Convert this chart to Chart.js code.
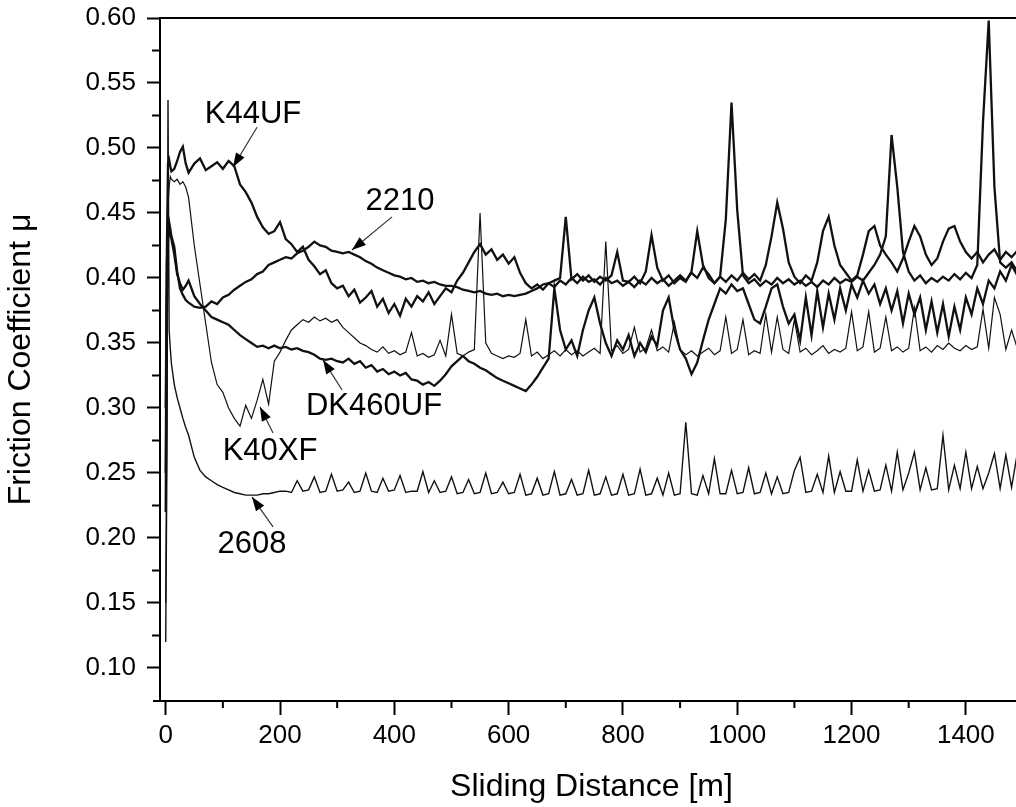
<!DOCTYPE html>
<html>
<head>
<meta charset="utf-8">
<script src="https://cdn.jsdelivr.net/npm/chart.js@4.4.0/dist/chart.umd.min.js"></script>
<style>
  html, body { margin: 0; padding: 0; background: #fff; overflow: hidden; }
  #wrap { width: 1016px; height: 807px; overflow: hidden; }
</style>
</head>
<body>
<div id="wrap"><canvas id="chart" width="1040" height="807"></canvas></div>
<script>
// sliding distance [m], shared by every curve
const distance = [
  0, 2, 4, 6, 8, 10, 15, 20, 25, 30, 35, 40,
  50, 60, 70, 80, 90, 100, 110, 120, 130, 140, 150, 160, 170, 180, 190, 200,
  210, 220, 230, 240, 250, 260, 270, 280, 290, 300,
  310, 320, 330, 340, 350, 360, 370, 380, 390, 400,
  410, 420, 430, 440, 450, 460, 470, 480, 490, 500,
  510, 520, 530, 540, 550, 560, 570, 580, 590, 600,
  610, 620, 630, 640, 650, 660, 670, 680, 690, 700,
  710, 720, 730, 740, 750, 760, 770, 780, 790, 800,
  810, 820, 830, 840, 850, 860, 870, 880, 890, 900,
  910, 920, 930, 940, 950, 960, 970, 980, 990, 1000,
  1010, 1020, 1030, 1040, 1050, 1060, 1070, 1080, 1090, 1100,
  1110, 1120, 1130, 1140, 1150, 1160, 1170, 1180, 1190, 1200,
  1210, 1220, 1230, 1240, 1250, 1260, 1270, 1280, 1290, 1300,
  1310, 1320, 1330, 1340, 1350, 1360, 1370, 1380, 1390, 1400,
  1410, 1420, 1430, 1440, 1450, 1460, 1470, 1480, 1490, 1500
];

// friction coefficient, one array per material
const k44uf = [
  0.250, 0.420, 0.488, 0.491, 0.486, 0.482, 0.484, 0.490, 0.497, 0.501, 0.488, 0.481,
  0.488, 0.492, 0.483, 0.486, 0.489, 0.484, 0.490, 0.486, 0.472, 0.466, 0.458, 0.447, 0.439, 0.434, 0.436, 0.443,
  0.430, 0.426, 0.420, 0.424, 0.414, 0.409, 0.403, 0.406, 0.396, 0.392,
  0.394, 0.386, 0.391, 0.381, 0.385, 0.390, 0.378, 0.384, 0.373, 0.380,
  0.371, 0.384, 0.378, 0.386, 0.382, 0.389, 0.380, 0.386, 0.392, 0.389,
  0.398, 0.404, 0.412, 0.420, 0.426, 0.418, 0.422, 0.414, 0.418, 0.411,
  0.416, 0.404, 0.396, 0.392, 0.395, 0.391, 0.396, 0.393, 0.398, 0.395,
  0.400, 0.396, 0.401, 0.397, 0.399, 0.395, 0.400, 0.396, 0.398, 0.394,
  0.397, 0.393, 0.398, 0.395, 0.400, 0.396, 0.399, 0.394, 0.398, 0.402,
  0.398, 0.404, 0.400, 0.408, 0.403, 0.396, 0.401, 0.397, 0.402, 0.398,
  0.404, 0.399, 0.403, 0.398, 0.410, 0.432, 0.458, 0.438, 0.412, 0.401,
  0.396, 0.402, 0.398, 0.412, 0.436, 0.447, 0.425, 0.410, 0.404, 0.398,
  0.402, 0.418, 0.436, 0.440, 0.425, 0.418, 0.412, 0.405, 0.415, 0.428,
  0.440, 0.432, 0.418, 0.410, 0.415, 0.428, 0.438, 0.440, 0.428, 0.420,
  0.415, 0.420, 0.412, 0.418, 0.422, 0.414, 0.420, 0.416, 0.421, 0.418
];

const s2210 = [
  0.300, 0.410, 0.438, 0.443, 0.438, 0.432, 0.424, 0.405, 0.392, 0.387, 0.383, 0.381,
  0.378, 0.377, 0.378, 0.382, 0.380, 0.385, 0.387, 0.391, 0.394, 0.397, 0.399, 0.403, 0.405, 0.410, 0.412, 0.414,
  0.416, 0.415, 0.419, 0.421, 0.424, 0.428, 0.425, 0.424, 0.421, 0.420,
  0.419, 0.420, 0.418, 0.416, 0.413, 0.411, 0.408, 0.406, 0.404, 0.402,
  0.401, 0.399, 0.400, 0.397, 0.398, 0.396, 0.397, 0.395, 0.394, 0.394,
  0.393, 0.391, 0.390, 0.389, 0.390, 0.388, 0.387, 0.388, 0.386, 0.387,
  0.386, 0.387, 0.388, 0.390, 0.392, 0.395, 0.396, 0.398, 0.400, 0.447,
  0.399, 0.403, 0.398, 0.402, 0.397, 0.401, 0.398, 0.402, 0.420, 0.398,
  0.397, 0.401, 0.396, 0.405, 0.433, 0.408, 0.398, 0.402, 0.396, 0.400,
  0.397, 0.405, 0.436, 0.410, 0.400, 0.396, 0.401, 0.445, 0.535, 0.452,
  0.402, 0.396, 0.399, 0.394, 0.398, 0.395, 0.400, 0.396, 0.399, 0.395,
  0.398, 0.394, 0.397, 0.393, 0.398, 0.395, 0.400, 0.396, 0.399, 0.397,
  0.401, 0.398, 0.404, 0.410, 0.418, 0.432, 0.510, 0.470, 0.420, 0.405,
  0.398, 0.402, 0.396, 0.400, 0.397, 0.401, 0.398, 0.403, 0.399, 0.404,
  0.400, 0.410, 0.520, 0.598, 0.470, 0.412, 0.408, 0.412, 0.405, 0.410
];

const dk460uf = [
  0.220, 0.380, 0.430, 0.436, 0.434, 0.430, 0.418, 0.403, 0.396, 0.391, 0.394, 0.398,
  0.386, 0.380, 0.375, 0.370, 0.368, 0.366, 0.364, 0.360, 0.356, 0.353, 0.350, 0.347, 0.348, 0.346, 0.348, 0.346,
  0.347, 0.345, 0.346, 0.344, 0.343, 0.341, 0.338, 0.337, 0.338, 0.336,
  0.335, 0.338, 0.334, 0.336, 0.331, 0.333, 0.328, 0.330, 0.326, 0.328,
  0.325, 0.327, 0.322, 0.321, 0.318, 0.320, 0.317, 0.321, 0.326, 0.332,
  0.336, 0.340, 0.336, 0.334, 0.331, 0.329, 0.326, 0.323, 0.321, 0.319,
  0.317, 0.315, 0.313, 0.318, 0.324, 0.331, 0.338, 0.392, 0.360, 0.345,
  0.352, 0.340, 0.360, 0.375, 0.385, 0.365, 0.350, 0.340, 0.352, 0.345,
  0.356, 0.340, 0.350, 0.343, 0.355, 0.348, 0.375, 0.385, 0.360, 0.345,
  0.338, 0.326, 0.335, 0.352, 0.368, 0.380, 0.392, 0.388, 0.395, 0.390,
  0.392, 0.380, 0.368, 0.365, 0.378, 0.392, 0.395, 0.378, 0.365, 0.372,
  0.352, 0.385, 0.356, 0.390, 0.362, 0.388, 0.368, 0.392, 0.375, 0.395,
  0.385, 0.398, 0.388, 0.395, 0.380, 0.392, 0.375, 0.390, 0.365, 0.388,
  0.372, 0.385, 0.360, 0.382, 0.358, 0.380, 0.355, 0.378, 0.360, 0.385,
  0.372, 0.392, 0.380, 0.398, 0.392, 0.405, 0.398, 0.410, 0.402, 0.408
];

const k40xf = [
  0.150, 0.300, 0.455, 0.470, 0.478, 0.476, 0.474, 0.476, 0.472, 0.474, 0.470, 0.462,
  0.425, 0.395, 0.365, 0.335, 0.318, 0.312, 0.300, 0.292, 0.286, 0.302, 0.292, 0.306, 0.322, 0.303, 0.336, 0.343,
  0.352, 0.360, 0.364, 0.368, 0.366, 0.370, 0.367, 0.369, 0.366, 0.368,
  0.362, 0.358, 0.354, 0.350, 0.348, 0.345, 0.343, 0.347, 0.342, 0.344,
  0.341, 0.343, 0.358, 0.340, 0.342, 0.339, 0.341, 0.352, 0.340, 0.372,
  0.342, 0.340, 0.343, 0.345, 0.450, 0.350, 0.342, 0.340, 0.338, 0.340,
  0.339, 0.342, 0.368, 0.340, 0.343, 0.338, 0.341, 0.344, 0.340, 0.345,
  0.341, 0.344, 0.340, 0.343, 0.346, 0.342, 0.428, 0.344, 0.348, 0.342,
  0.345, 0.362, 0.343, 0.346, 0.360, 0.344, 0.347, 0.343, 0.366, 0.345,
  0.341, 0.344, 0.340, 0.343, 0.346, 0.341, 0.344, 0.370, 0.342, 0.345,
  0.368, 0.341, 0.344, 0.342, 0.372, 0.343, 0.370, 0.345, 0.342, 0.368,
  0.343, 0.346, 0.341, 0.344, 0.348, 0.342, 0.345, 0.343, 0.346, 0.374,
  0.344, 0.347, 0.374, 0.343, 0.346, 0.370, 0.344, 0.347, 0.343, 0.346,
  0.377, 0.344, 0.347, 0.343, 0.348, 0.345, 0.350, 0.346, 0.344, 0.348,
  0.345, 0.347, 0.376, 0.346, 0.385, 0.372, 0.345, 0.360, 0.346, 0.348
];

const s2608 = [
  0.120, 0.250, 0.537, 0.360, 0.346, 0.334, 0.318, 0.308, 0.300, 0.292, 0.285, 0.279,
  0.262, 0.252, 0.247, 0.244, 0.241, 0.239, 0.237, 0.235, 0.234, 0.233, 0.233, 0.233, 0.234, 0.234, 0.235, 0.236,
  0.236, 0.235, 0.244, 0.236, 0.237, 0.247, 0.235, 0.236, 0.249, 0.236,
  0.237, 0.243, 0.235, 0.236, 0.250, 0.236, 0.235, 0.246, 0.236, 0.237,
  0.248, 0.235, 0.236, 0.236, 0.251, 0.235, 0.244, 0.235, 0.236, 0.247,
  0.234, 0.235, 0.245, 0.234, 0.235, 0.250, 0.234, 0.235, 0.243, 0.234,
  0.235, 0.249, 0.233, 0.234, 0.246, 0.233, 0.234, 0.251, 0.233, 0.234,
  0.245, 0.233, 0.234, 0.252, 0.233, 0.234, 0.247, 0.233, 0.234, 0.249,
  0.233, 0.234, 0.253, 0.233, 0.234, 0.246, 0.233, 0.250, 0.233, 0.234,
  0.289, 0.234, 0.233, 0.248, 0.234, 0.261, 0.234, 0.234, 0.252, 0.234,
  0.235, 0.254, 0.234, 0.235, 0.250, 0.234, 0.247, 0.234, 0.235, 0.252,
  0.262, 0.235, 0.236, 0.249, 0.235, 0.263, 0.235, 0.251, 0.236, 0.236,
  0.260, 0.236, 0.252, 0.236, 0.237, 0.256, 0.236, 0.266, 0.237, 0.250,
  0.266, 0.237, 0.254, 0.237, 0.238, 0.279, 0.237, 0.256, 0.238, 0.266,
  0.238, 0.255, 0.238, 0.250, 0.265, 0.238, 0.264, 0.239, 0.265, 0.239
];

// axis ticks
const xTicks = [0, 200, 400, 600, 800, 1000, 1200, 1400];
const xMinorTicks = [100, 300, 500, 700, 900, 1100, 1300, 1500];
const yTicks = [0.10, 0.15, 0.20, 0.25, 0.30, 0.35, 0.40, 0.45, 0.50, 0.55, 0.60];
const yMinorTicks = [0.125, 0.175, 0.225, 0.275, 0.325, 0.375, 0.425, 0.475, 0.525, 0.575];

// curve labels with their arrows, in data units
const labelNames = ['K44UF', '2210', 'DK460UF', 'K40XF', '2608'];
const labelAt = [[152.8, 0.519], [410, 0.452], [364.5, 0.2946], [182.5, 0.26], [151, 0.1885]];
const arrowFrom = [[159.8, 0.516], [396, 0.447], [308.5, 0.3138], [187.8, 0.2808], [187.8, 0.2085]];
const arrowTo = [[117.8, 0.4854], [325.9, 0.4215], [275.3, 0.337], [165, 0.3008], [151, 0.2315]];

const FONT = '"Liberation Sans", Arial, sans-serif';

function pts(values) {
    return distance.map((d, i) => ({ x: d, y: values[i] }));
}

function curve(label, values, width) {
    return {
        label: label,
        data: pts(values),
        borderColor: '#111',
        borderWidth: width,
        pointRadius: 0,
        tension: 0,
        fill: false
    };
}

// top frame line + the short minor ticks
const frameAndMinor = {
    id: 'frameAndMinor',
    afterDraw(chart) {
        const { ctx, chartArea, scales } = chart;
        ctx.save();
        ctx.strokeStyle = '#000';
        ctx.lineWidth = 2;
        ctx.beginPath();
        ctx.moveTo(chartArea.left, chartArea.top);
        ctx.lineTo(chartArea.right, chartArea.top);
        ctx.moveTo(chartArea.left - 7, chartArea.bottom);
        ctx.lineTo(chartArea.left, chartArea.bottom);
        xMinorTicks.forEach(v => {
            const px = scales.x.getPixelForValue(v);
            ctx.moveTo(px, chartArea.bottom);
            ctx.lineTo(px, chartArea.bottom + 7);
        });
        yMinorTicks.forEach(v => {
            const py = scales.y.getPixelForValue(v);
            ctx.moveTo(chartArea.left - 8, py);
            ctx.lineTo(chartArea.left, py);
        });
        ctx.stroke();
        ctx.restore();
    }
};

const curveLabels = {
    id: 'curveLabels',
    afterDatasetsDraw(chart) {
        const { ctx, scales: { x, y } } = chart;
        ctx.save();
        ctx.font = '31px ' + FONT;
        ctx.fillStyle = '#000';
        ctx.textAlign = 'center';
        ctx.textBaseline = 'alphabetic';
        labelNames.forEach((name, i) => {
            ctx.fillText(name, x.getPixelForValue(labelAt[i][0]), y.getPixelForValue(labelAt[i][1]));

            const x0 = x.getPixelForValue(arrowFrom[i][0]);
            const y0 = y.getPixelForValue(arrowFrom[i][1]);
            const x1 = x.getPixelForValue(arrowTo[i][0]);
            const y1 = y.getPixelForValue(arrowTo[i][1]);
            ctx.strokeStyle = '#333';
            ctx.lineWidth = 1.2;
            ctx.beginPath();
            ctx.moveTo(x0, y0);
            ctx.lineTo(x1, y1);
            ctx.stroke();

            const ang = Math.atan2(y1 - y0, x1 - x0);
            const len = 14, half = 5;
            const bx = x1 - len * Math.cos(ang), by = y1 - len * Math.sin(ang);
            ctx.beginPath();
            ctx.moveTo(x1, y1);
            ctx.lineTo(bx + half * Math.sin(ang), by - half * Math.cos(ang));
            ctx.lineTo(bx - half * Math.sin(ang), by + half * Math.cos(ang));
            ctx.closePath();
            ctx.fill();
        });
        ctx.restore();
    }
};

new Chart(document.getElementById('chart'), {
    type: 'line',
    data: {
        datasets: [
            curve('2608', s2608, 1.4),
            curve('K40XF', k40xf, 1.2),
            curve('DK460UF', dk460uf, 2.3),
            curve('2210', s2210, 2.3),
            curve('K44UF', k44uf, 2.3)
        ]
    },
    options: {
        responsive: false,
        devicePixelRatio: 1,
        animation: false,
        layout: { padding: { top: 18, right: 17, bottom: 0, left: 0 } },
        plugins: {
            legend: { display: false },
            tooltip: { enabled: false }
        },
        scales: {
            x: {
                type: 'linear',
                min: -10,
                max: 1500,
                afterBuildTicks: s => { s.ticks = xTicks.map(v => ({ value: v })); },
                afterFit: s => { s.height = 106; s.paddingLeft = 0; s.paddingRight = 0; },
                grid: { drawOnChartArea: false, drawTicks: true, tickLength: 14, tickWidth: 2, tickColor: '#000' },
                border: { display: true, color: '#000', width: 2 },
                ticks: {
                    autoSkip: false, maxRotation: 0, padding: 5, color: '#000',
                    font: { family: FONT, size: 26 },
                    callback: v => String(v)
                },
                title: {
                    display: true, text: 'Sliding Distance [m]', color: '#000',
                    font: { family: FONT, size: 32 }, padding: { top: 0, bottom: 1 }
                }
            },
            y: {
                type: 'linear',
                min: 0.0746,
                max: 0.60,
                afterBuildTicks: s => { s.ticks = yTicks.map(v => ({ value: v })); },
                afterFit: s => { s.width = 160; s.paddingTop = 0; s.paddingBottom = 0; },
                grid: { drawOnChartArea: false, drawTicks: true, tickLength: 13, tickWidth: 2, tickColor: '#000' },
                border: { display: true, color: '#000', width: 2 },
                ticks: {
                    autoSkip: false, padding: 11, color: '#000',
                    font: { family: FONT, size: 26 },
                    callback: v => Number(v).toFixed(2)
                },
                title: {
                    display: true, text: 'Friction Coefficient μ', color: '#000',
                    font: { family: FONT, size: 32 }, padding: { top: 2, bottom: 0 }
                }
            }
        }
    },
    plugins: [frameAndMinor, curveLabels]
});
</script>
</body>
</html>
